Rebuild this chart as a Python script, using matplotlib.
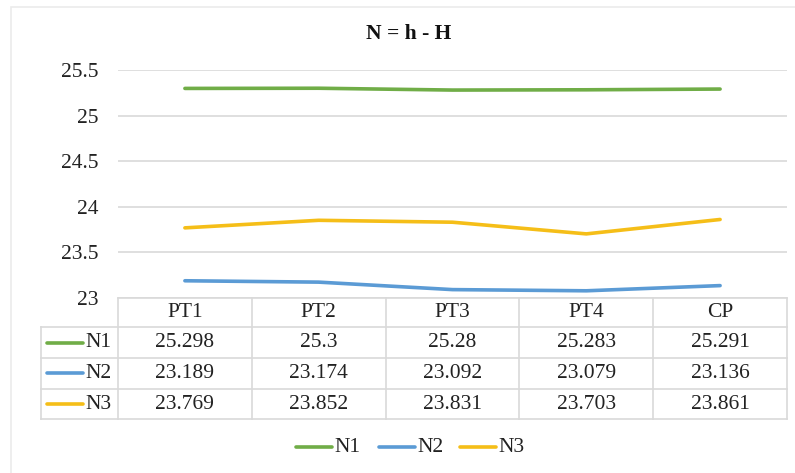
import matplotlib
matplotlib.use("Agg")
import matplotlib.pyplot as plt
from matplotlib.lines import Line2D
from matplotlib.patches import Rectangle

# Data
categories = ["PT1", "PT2", "PT3", "PT4", "CP"]
series_names = ["N1", "N2", "N3"]
n1 = [25.298, 25.3, 25.28, 25.283, 25.291]
n2 = [23.189, 23.174, 23.092, 23.079, 23.136]
n3 = [23.769, 23.852, 23.831, 23.703, 23.861]
y_ticks = [23, 23.5, 24, 24.5, 25, 25.5]
y_tick_labels = ["23", "23.5", "24", "24.5", "25", "25.5"]
title = "N = h - H"

colors = ["#70AD47", "#5B9BD5", "#F5BE18"]
grid_color = "#D9D9D9"
text_color = "#222222"

W, H = 795, 473
fig = plt.figure(figsize=(W / 100, H / 100), dpi=100)
plt.rcParams["font.family"] = ["Liberation Serif", "DejaVu Serif"]
FS = 15.5


def fx(px):
    return px / W


def fy(py):
    return 1 - py / H


# Chart area border
fig.patches.append(Rectangle((fx(11), fy(480)), fx(800) - fx(11), fy(7) - fy(480),
                             transform=fig.transFigure, fill=False,
                             edgecolor="#EBEBEB", linewidth=1.2))

# Plot area
left, right, top, bottom = 118, 787, 70, 298
ax = fig.add_axes([fx(left), fy(bottom), fx(right) - fx(left), fy(top) - fy(bottom)])
ax.set_xlim(-0.5, len(categories) - 0.5)
ax.set_ylim(23, 25.5)
for s in ax.spines.values():
    s.set_visible(False)
ax.set_xticks([])
ax.set_yticks(y_ticks)
ax.set_yticklabels(y_tick_labels, fontsize=FS, color=text_color)
ax.tick_params(axis="y", length=0, pad=14)
ax.grid(axis="y", color=grid_color, linewidth=1.2)
ax.set_axisbelow(True)

series = [n1, n2, n3]
x = list(range(len(categories)))
for vals, c in zip(series, colors):
    ax.plot(x, vals, color=c, linewidth=2.6, solid_capstyle="round",
            solid_joinstyle="round", clip_on=False)

# Title
fig.text(fx(409), fy(34), title, ha="center", va="center", fontsize=FS,
         fontweight="bold", color="#111111")

# Data table
tbl_left = 41
col_edges = [118 + i * (787 - 118) / len(categories) for i in range(len(categories) + 1)]
row_edges = [298, 327, 358, 389, 419]


def hline(y, x0, x1):
    fig.add_artist(Line2D([fx(x0), fx(x1)], [fy(y), fy(y)], transform=fig.transFigure,
                          color=grid_color, linewidth=1.2))


def vline(xp, y0, y1):
    fig.add_artist(Line2D([fx(xp), fx(xp)], [fy(y0), fy(y1)], transform=fig.transFigure,
                          color=grid_color, linewidth=1.2))


hline(row_edges[0], col_edges[0], col_edges[-1])
for r in row_edges[1:]:
    hline(r, tbl_left, col_edges[-1])
vline(tbl_left, row_edges[1], row_edges[-1])
for c in col_edges:
    vline(c, row_edges[0], row_edges[-1])

for i, cat in enumerate(categories):
    cx = (col_edges[i] + col_edges[i + 1]) / 2
    cy = (row_edges[0] + row_edges[1]) / 2
    fig.text(fx(cx), fy(cy), cat, ha="center", va="center", fontsize=FS, color=text_color)

for j, (name, vals, c) in enumerate(zip(series_names, series, colors)):
    cy = (row_edges[j + 1] + row_edges[j + 2]) / 2
    fig.add_artist(Line2D([fx(47), fx(83)], [fy(cy), fy(cy)], transform=fig.transFigure,
                          color=c, linewidth=2.6, solid_capstyle="round"))
    fig.text(fx(85), fy(cy), name, ha="left", va="center", fontsize=FS, color=text_color)
    for i, v in enumerate(vals):
        cx = (col_edges[i] + col_edges[i + 1]) / 2
        fig.text(fx(cx), fy(cy), f"{v:g}", ha="center", va="center", fontsize=FS,
                 color=text_color)

# Legend
leg_y = 447
leg_x = [296, 379, 460]
for name, c, lx in zip(series_names, colors, leg_x):
    fig.add_artist(Line2D([fx(lx), fx(lx + 36)], [fy(leg_y), fy(leg_y)],
                          transform=fig.transFigure, color=c, linewidth=2.6,
                          solid_capstyle="round"))
    fig.text(fx(lx + 38), fy(leg_y), name, ha="left", va="center", fontsize=FS,
             color=text_color)

fig.savefig("out.png", dpi=100)
